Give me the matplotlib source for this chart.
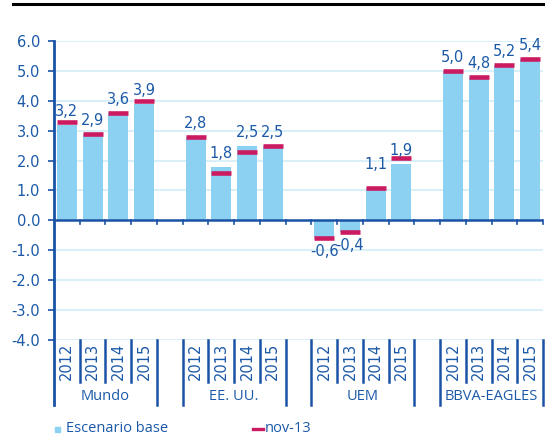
import matplotlib
matplotlib.use("Agg")
import matplotlib.pyplot as plt
from matplotlib.patches import Rectangle
from matplotlib.lines import Line2D

# ---- data ----
groups = ["Mundo", "EE. UU.", "UEM", "BBVA-EAGLES"]
years = ["2012", "2013", "2014", "2015"]
base_mundo = [3.2, 2.9, 3.6, 3.9]
base_eeuu = [2.8, 1.8, 2.5, 2.5]
base_uem = [-0.6, -0.4, 1.1, 1.9]
base_eagles = [5.0, 4.8, 5.2, 5.4]
nov_mundo = [3.3, 2.9, 3.6, 4.0]
nov_eeuu = [2.8, 1.6, 2.3, 2.5]
nov_uem = [-0.6, -0.4, 1.1, 2.1]
nov_eagles = [5.0, 4.8, 5.2, 5.4]
yticks = [6.0, 5.0, 4.0, 3.0, 2.0, 1.0, 0.0, -1.0, -2.0, -3.0, -4.0]
legend_labels = ["Escenario base", "nov-13"]

base = [base_mundo, base_eeuu, base_uem, base_eagles]
nov = [nov_mundo, nov_eeuu, nov_uem, nov_eagles]

# ---- style ----
C_BAR = "#8CD1F1"
C_NOV = "#CC1A60"
C_TXT = "#1B59A8"
C_AX = "#1A52A5"
C_GRID = "#D3EDF8"
FONT = "Open Sans"
NFONT = "DejaVu Sans"
FS = 10.5
NFS = 10.5

W, H = 550, 438
fig = plt.figure(figsize=(W / 100, H / 100), dpi=100)
ax = fig.add_axes([54 / W, 1 - 340 / H, (543 - 54) / W, (340 - 41) / H])
ax.set_xlim(-0.5, 18.5)
ax.set_ylim(-4, 6)

for s in ax.spines.values():
    s.set_visible(False)

ax.set_yticks(yticks)
ax.set_yticklabels([f"{v:.1f}" for v in yticks], fontfamily=NFONT, fontsize=NFS, color=C_TXT)
ax.tick_params(axis="y", length=4, width=1.2, color=C_AX, pad=6)
ax.set_xticks([])
for v in yticks:
    if v != 0:
        ax.axhline(v, color=C_GRID, lw=1.2, zorder=0)

bw = 0.78
for g in range(len(groups)):
    for i in range(len(years)):
        x = g * 5 + i
        b = base[g][i]
        n = nov[g][i]
        ax.bar(x, b, width=bw, color=C_BAR, zorder=2, edgecolor="none")
        ax.hlines(n, x - bw / 2, x + bw / 2, color=C_NOV, lw=3.3, zorder=3)
        off = 9.6 if b >= 0 else -9.6
        if g == 2 and i == 2:
            off = 16.3
        ax.annotate(f"{b:.1f}".replace(".", ","), (x, b), xytext=(0, off),
                    textcoords="offset points", ha="center", va="center",
                    fontfamily=NFONT, fontsize=NFS, color=C_TXT, zorder=4)

# zero line with ticks
ax.axhline(0, color=C_AX, lw=1.8, zorder=5)
for k in range(19):
    xb = k + 0.5
    ax.plot([xb, xb], [0, -0.12], color=C_AX, lw=1.2, zorder=5, clip_on=False)

# y axis line extended down through the category area
trans = ax.get_xaxis_transform()
y_short = (340 - 382) / 299
y_long = (340 - 405) / 299
ax.plot([-0.5, -0.5], [1, y_long], color=C_AX, lw=2.0, transform=trans, clip_on=False, zorder=6)

for g in range(len(groups)):
    s = g * 5
    for k in range(3):
        xb = s + k + 0.5
        ax.plot([xb, xb], [0, y_short], color=C_AX, lw=1.8, transform=trans, clip_on=False)
    ends = [s + 3.5] + ([s - 0.5] if g > 0 else [])
    for xb in ends:
        ax.plot([xb, xb], [0, y_long], color=C_AX, lw=1.8, transform=trans, clip_on=False)
    for i, yr in enumerate(years):
        ax.text(s + i, (340 - 361.5) / 299, yr, transform=trans, rotation=90,
                ha="center", va="center", fontfamily=NFONT, fontsize=NFS, color=C_TXT)
    ax.text(s + 1.5, (340 - 397) / 299, groups[g], transform=trans,
            ha="center", va="center", fontfamily=FONT, fontsize=FS, color=C_TXT)

# top black rule
fig.add_artist(Line2D([13 / W, 543 / W], [1 - 4 / H, 1 - 4 / H], color="black", lw=2.2))

# legend
fig.add_artist(Rectangle((55 / W, 1 - 432 / H), 5 / W, 5 / H, color=C_BAR, transform=fig.transFigure))
fig.text(66 / W, 1 - 429 / H, legend_labels[0], ha="left", va="center",
         fontfamily=FONT, fontsize=FS, color=C_TXT)
fig.add_artist(Line2D([253 / W, 263 / W], [1 - 429 / H, 1 - 429 / H], color=C_NOV, lw=2.4))
fig.text(265 / W, 1 - 429 / H, legend_labels[1], ha="left", va="center",
         fontfamily=FONT, fontsize=FS, color=C_TXT)

fig.savefig("out.png", dpi=100)
